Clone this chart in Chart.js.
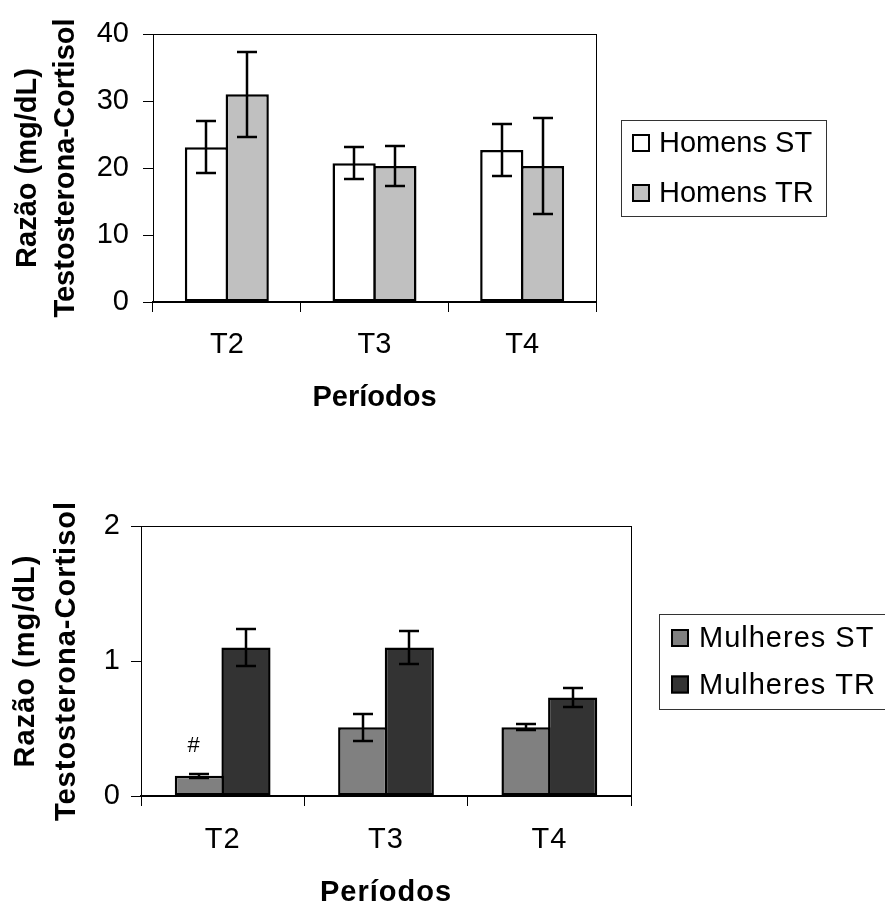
<!DOCTYPE html>
<html>
<head>
<meta charset="utf-8">
<script src="https://cdn.jsdelivr.net/npm/chart.js@4.4.1/dist/chart.umd.min.js"></script>
<style>
  html, body { margin: 0; padding: 0; background: #fff; overflow: hidden; }
  .wrap { position: absolute; left: 0; width: 885px; }
  #top { top: 0; height: 440px; }
  #bottom { top: 440px; height: 480px; }
</style>
</head>
<body>
<div class="wrap" id="top"><canvas id="homensChart" width="885" height="440"></canvas></div>
<div class="wrap" id="bottom"><canvas id="mulheresChart" width="885" height="480"></canvas></div>
<script>
// Períodos de coleta
const periodos = ["T2", "T3", "T4"];

// Homens: média e erro padrão
const homensST = [23.1, 20.7, 22.7];
const homensSTerro = [3.9, 2.4, 3.9];
const homensTR = [31.0, 20.3, 20.3];
const homensTRerro = [6.3, 3.05, 7.1];

// Mulheres: média e erro padrão
const mulheresST = [0.15, 0.51, 0.51];
const mulheresSTerro = [0.015, 0.10, 0.02];
const mulheresTR = [1.10, 1.10, 0.73];
const mulheresTRerro = [0.14, 0.12, 0.07];

// marca de diferença significativa sobre as barras ST das mulheres
const mulheresSTmarcas = ["#", "", ""];

const yTicksHomens = [0, 10, 20, 30, 40];
const yTicksMulheres = [0, 1, 2];

const FONT = "'Liberation Sans', Arial, sans-serif";

// moldura em volta da área do gráfico
const plotBox = {
  id: "plotBox",
  beforeDatasetsDraw(chart) {
    const { ctx, chartArea: a } = chart;
    ctx.save();
    ctx.strokeStyle = "#000";
    ctx.lineWidth = 1;
    ctx.strokeRect(Math.round(a.left) + 0.5, Math.round(a.top) + 0.5,
      Math.round(a.right - a.left), Math.round(a.bottom - a.top));
    ctx.restore();
  }
};

// barras de erro e marcas de texto
const errorBars = {
  id: "errorBars",
  afterDatasetsDraw(chart) {
    const { ctx } = chart;
    const y = chart.scales.y;
    ctx.save();
    ctx.strokeStyle = "#000";
    ctx.lineWidth = 2.5;
    chart.data.datasets.forEach((ds, i) => {
      const meta = chart.getDatasetMeta(i);
      meta.data.forEach((bar, j) => {
        const v = ds.data[j];
        const e = ds.erro[j];
        const yt = Math.round(y.getPixelForValue(v + e));
        const yb = Math.round(y.getPixelForValue(v - e));
        const x = Math.round(bar.x);
        ctx.beginPath();
        ctx.moveTo(x, yt); ctx.lineTo(x, yb);
        ctx.moveTo(x - 10, yt); ctx.lineTo(x + 10, yt);
        ctx.moveTo(x - 10, yb); ctx.lineTo(x + 10, yb);
        ctx.stroke();
        if (ds.marcas && ds.marcas[j]) {
          ctx.fillStyle = "#000";
          ctx.font = "22px " + FONT;
          ctx.textAlign = "center";
          ctx.textBaseline = "middle";
          ctx.fillText(ds.marcas[j], x - 5, y.getPixelForValue(v) - 30);
        }
      });
    });
    ctx.restore();
  }
};

// legenda com moldura, à direita da área do gráfico
const boxLegend = {
  id: "boxLegend",
  afterDraw(chart, args, opts) {
    const { ctx, chartArea: a } = chart;
    const items = chart.data.datasets;
    ctx.save();
    if (opts.spacing) ctx.letterSpacing = opts.spacing;
    ctx.font = "29px " + FONT;
    const textW = Math.max(...items.map(d => ctx.measureText(d.label).width));
    const w = opts.padX + 18 + opts.gap + textW + 12;
    const h = opts.padY * 2 + opts.rowGap * (items.length - 1);
    const left = Math.round(a.right + opts.offset);
    const top = Math.round((a.top + a.bottom) / 2 - h / 2);
    ctx.strokeStyle = "#333";
    ctx.lineWidth = 1;
    ctx.strokeRect(left + 0.5, top + 0.5, Math.round(w), Math.round(h));
    items.forEach((d, i) => {
      const cy = top + opts.padY + i * opts.rowGap;
      const bx = left + opts.padX;
      ctx.fillStyle = d.backgroundColor;
      ctx.fillRect(bx, cy - 9, 18, 18);
      ctx.strokeStyle = "#000";
      ctx.lineWidth = 2;
      ctx.strokeRect(bx + 1, cy - 8, 16, 16);
      ctx.fillStyle = "#000";
      ctx.textAlign = "left";
      ctx.textBaseline = "middle";
      ctx.fillText(d.label, bx + 18 + opts.gap, cy + 1);
    });
    ctx.restore();
  }
};

// espaçamento entre letras (gráfico das mulheres)
const spacing = {
  id: "spacing",
  beforeLayout(chart, args, opts) { chart.ctx.letterSpacing = opts.value; },
  beforeDraw(chart, args, opts) { chart.ctx.letterSpacing = opts.value; }
};

function makeChart(id, cfg) {
  const ctx = document.getElementById(id).getContext("2d");
  return new Chart(ctx, {
    type: "bar",
    data: {
      labels: periodos,
      datasets: cfg.datasets.map(d => ({
        label: d.label,
        data: d.data,
        erro: d.erro,
        marcas: d.marcas,
        backgroundColor: d.color,
        borderColor: "#000",
        borderWidth: 2.5,
        borderSkipped: false,
        inflateAmount: 0,
        // barras vizinhas se sobrepõem para dividir a mesma borda
        categoryPercentage: cfg.catPct,
        barPercentage: cfg.barPct
      }))
    },
    options: {
      responsive: false,
      animation: false,
      events: [],
      layout: { padding: cfg.padding },
      plugins: {
        legend: { display: false },
        tooltip: { enabled: false },
        boxLegend: cfg.legend,
        spacing: { value: cfg.letterSpacing || "0px" }
      },
      scales: {
        x: {
          grid: { drawOnChartArea: false, drawTicks: true, tickLength: 10, color: "#000", offset: true },
          border: { display: true, color: "#000", width: 1.5 },
          ticks: { color: "#000", padding: cfg.xTickPad, font: { family: FONT, size: 29 } },
          title: {
            display: true,
            text: "Períodos",
            color: "#000",
            font: { family: FONT, size: 29, weight: "bold" },
            padding: { top: 0, bottom: cfg.xTitlePad }
          },
          afterFit: s => { s.height = 120; }
        },
        y: {
          min: 0,
          max: cfg.yTicks[cfg.yTicks.length - 1],
          afterBuildTicks: s => { s.ticks = cfg.yTicks.map(v => ({ value: v })); },
          grid: { drawOnChartArea: false, drawTicks: true, tickLength: 10, color: "#000" },
          border: { display: true, color: "#000", width: 1 },
          ticks: { color: "#000", padding: cfg.yTickPad, font: { family: FONT, size: 29 } },
          title: {
            display: true,
            text: ["Razão (mg/dL)", "Testosterona-Cortisol"],
            color: "#000",
            font: { family: FONT, size: 29, weight: "bold", lineHeight: cfg.yTitleLH },
            padding: { top: cfg.yTitlePad, bottom: 0 }
          },
          afterFit: s => { s.width = cfg.yWidth; }
        }
      }
    },
    plugins: [spacing, plotBox, errorBars, boxLegend]
  });
}

makeChart("homensChart", {
  datasets: [
    { label: "Homens ST", data: homensST, erro: homensSTerro, color: "#ffffff" },
    { label: "Homens TR", data: homensTR, erro: homensTRerro, color: "#c0c0c0" }
  ],
  catPct: 0.552,
  barPct: 1.061,
  yTicks: yTicksHomens,
  yWidth: 153,
  yTickPad: 14,
  yTitleLH: 38 / 29,
  yTitlePad: 9,
  xTickPad: 16,
  xTitlePad: 7,
  padding: { top: 34, left: 0, right: 289, bottom: 18 },
  legend: { offset: 25, padX: 11, gap: 9, padY: 23, rowGap: 50 }
});

makeChart("mulheresChart", {
  datasets: [
    { label: "Mulheres ST", data: mulheresST, erro: mulheresSTerro, marcas: mulheresSTmarcas, color: "#808080" },
    { label: "Mulheres TR", data: mulheresTR, erro: mulheresTRerro, color: "#333333" }
  ],
  catPct: 0.571,
  barPct: 1.054,
  yTicks: yTicksMulheres,
  yWidth: 141,
  yTickPad: 10,
  yTitleLH: 41 / 29,
  yTitlePad: 5,
  xTickPad: 17,
  xTitlePad: 6,
  letterSpacing: "1px",
  padding: { top: 86, left: 0, right: 254, bottom: 4 },
  legend: { offset: 28, padX: 12, gap: 10, padY: 24, rowGap: 46.5, spacing: "1px" }
});
</script>
</body>
</html>
